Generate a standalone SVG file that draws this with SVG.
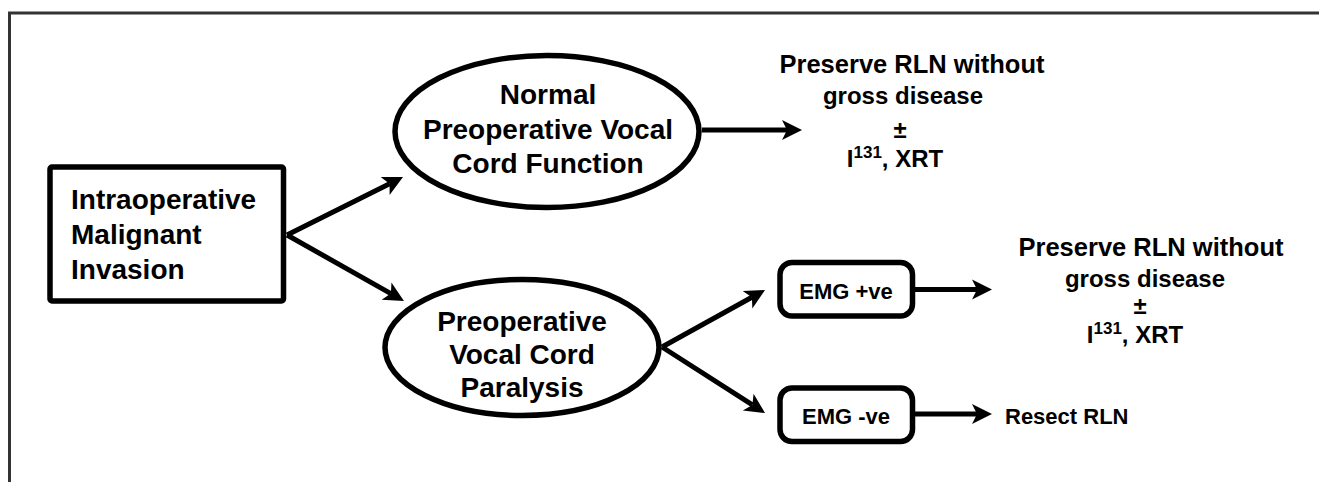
<svg xmlns="http://www.w3.org/2000/svg" width="1319" height="482" viewBox="0 0 1319 482">
<style>
.t{font-family:"Liberation Sans",Arial,sans-serif;font-weight:bold;fill:#000}
.n{fill:#fff;stroke:#000;stroke-width:5.5}
.c{stroke:#000;stroke-width:5;fill:none;marker-end:url(#ah)}
</style>
<defs>
<marker id="ah" markerUnits="userSpaceOnUse" markerWidth="22" markerHeight="22" viewBox="0 -11 22 22" refX="5" refY="0" orient="auto">
<path d="M0,-10 L20,0 L0,10 L5,0 z" fill="#000"/>
</marker>
</defs>
<rect width="1319" height="482" fill="#fff"/>
<path d="M9.5,482 V13 H1319" fill="none" stroke="#333" stroke-width="3"/>
<g id="connectors">
<line class="c" x1="287" y1="235" x2="389.6" y2="183.7"/>
<line class="c" x1="287" y1="235" x2="390.9" y2="293.6"/>
<line class="c" x1="702" y1="130" x2="787" y2="130"/>
<line class="c" x1="662" y1="347" x2="751.9" y2="297.3"/>
<line class="c" x1="662" y1="347" x2="752.4" y2="404.9"/>
<line class="c" x1="915" y1="289.5" x2="977" y2="289.5"/>
<line class="c" x1="915" y1="414" x2="977" y2="414"/>
</g>
<g id="invasion">
<rect class="n" x="50" y="167" width="233.5" height="134" rx="2"/>
<text class="t" font-size="28" x="71" y="209">Intraoperative</text>
<text class="t" font-size="28" x="71" y="244">Malignant</text>
<text class="t" font-size="28" x="71" y="279">Invasion</text>
</g>
<g id="normal">
<ellipse class="n" cx="547" cy="131.5" rx="152" ry="76"/>
<text class="t" font-size="28" text-anchor="middle" x="548" y="104">Normal</text>
<text class="t" font-size="28" text-anchor="middle" x="548" y="139">Preoperative Vocal</text>
<text class="t" font-size="28" text-anchor="middle" x="548" y="173">Cord Function</text>
</g>
<g id="paralysis">
<ellipse class="n" cx="522" cy="347.5" rx="137" ry="68"/>
<text class="t" font-size="28" text-anchor="middle" x="522" y="331">Preoperative</text>
<text class="t" font-size="28" text-anchor="middle" x="522" y="364">Vocal Cord</text>
<text class="t" font-size="28" text-anchor="middle" x="522" y="397">Paralysis</text>
</g>
<g id="emgpos">
<rect class="n" x="780" y="262.5" width="132.5" height="53.5" rx="12"/>
<text class="t" font-size="22" text-anchor="middle" x="846" y="299">EMG +ve</text>
</g>
<g id="emgneg">
<rect class="n" x="780" y="388" width="132.5" height="53.5" rx="12"/>
<text class="t" font-size="22" text-anchor="middle" x="846" y="424">EMG -ve</text>
</g>
<g id="outcome1">
<text class="t" font-size="25.5" text-anchor="middle" x="912" y="73">Preserve RLN without</text>
<text class="t" font-size="24" text-anchor="middle" x="903" y="104">gross disease</text>
<text class="t" font-size="24" text-anchor="middle" x="900" y="138">±</text>
<text class="t" font-size="24" text-anchor="middle" x="895" y="167">I<tspan font-size="17" dy="-9">131</tspan><tspan dy="9">, XRT</tspan></text>
</g>
<g id="outcome2">
<text class="t" font-size="25.5" text-anchor="middle" x="1151" y="256">Preserve RLN without</text>
<text class="t" font-size="24" text-anchor="middle" x="1145" y="287">gross disease</text>
<text class="t" font-size="24" text-anchor="middle" x="1140" y="314">±</text>
<text class="t" font-size="24" text-anchor="middle" x="1135" y="343">I<tspan font-size="17" dy="-9">131</tspan><tspan dy="9">, XRT</tspan></text>
</g>
<g id="outcome3">
<text class="t" font-size="22" x="1005" y="424">Resect RLN</text>
</g>
</svg>
